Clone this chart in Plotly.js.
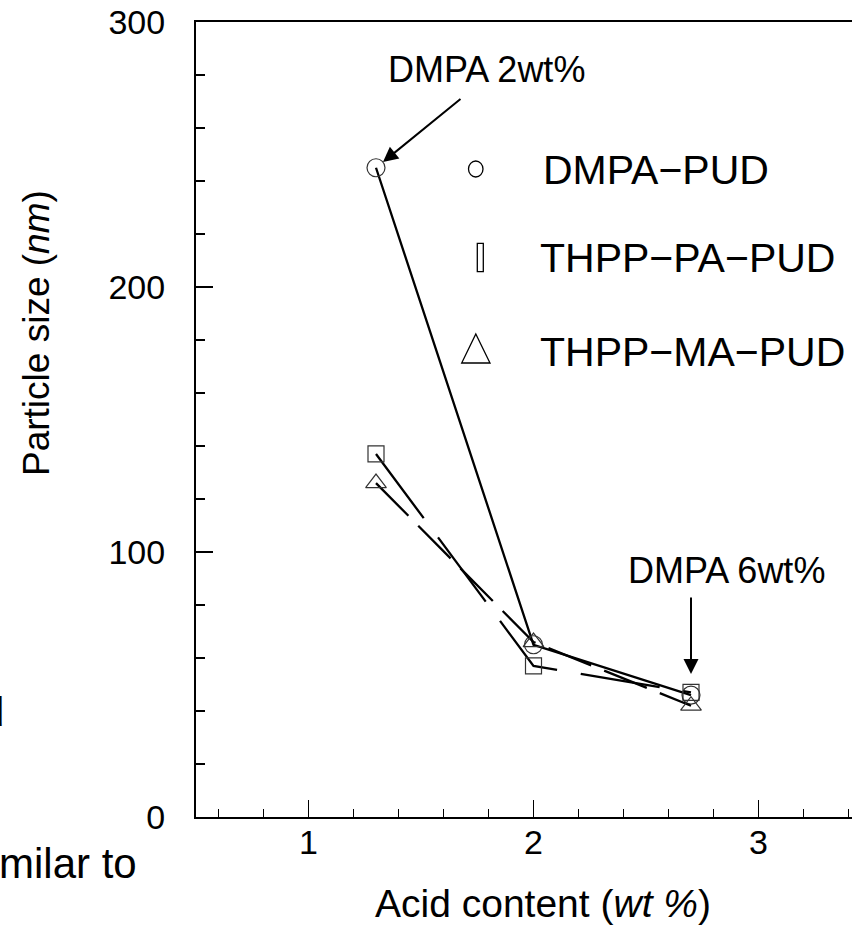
<!DOCTYPE html>
<html>
<head>
<meta charset="utf-8">
<script src="https://cdn.plot.ly/plotly-3.0.1.min.js"></script>
<style>
html, body { margin: 0; padding: 0; overflow: hidden; background: #fff; }
#chart { width: 900px; height: 936px; }
</style>
</head>
<body>
<div id="chart"></div>
<script>
// ---- data ----
const acidContent = [1.3, 2.0, 2.7];
const dmpaPUD = [245, 65, 46];
const thppPAPUD = [137, 57, 47];
const thppMAPUD = [126, 66, 42];
const seriesNames = ['DMPA\u2212PUD', 'THPP\u2212PA\u2212PUD', 'THPP\u2212MA\u2212PUD'];
const xTickVals = [1, 2, 3];
const yTickVals = [0, 100, 200, 300];

// ---- geometry ----
const W = 900, H = 936;
const L = 196, T = 22, PW = 675, PH = 795;
const px = v => (v - L) / PW;
const py = v => (T + PH - v) / PH;
const FONT = 'Liberation Sans, Arial, sans-serif';

const traces = [
  { x: acidContent, y: dmpaPUD, name: seriesNames[0], mode: 'lines+markers',
    line: { color: '#000', width: 2.3 },
    marker: { symbol: 'circle-open', size: 18, color: '#333', line: { width: 1.2 } } },
  { x: acidContent, y: thppPAPUD, name: seriesNames[1], mode: 'lines+markers',
    line: { color: '#000', width: 2.3, dash: '80px,24px' },
    marker: { symbol: 'square-open', size: 16, color: '#333', line: { width: 1.2 } } },
  { x: acidContent, y: thppMAPUD, name: seriesNames[2], mode: 'lines+markers',
    line: { color: '#000', width: 2.3, dash: '46px,14px' },
    marker: { symbol: 'triangle-up-open', size: 18, color: '#333', line: { width: 1.2 } } }
];

function txt(text, x, y, size, anchor) {
  return { text: text, xref: 'paper', yref: 'paper', x: px(x), y: py(y),
    xanchor: anchor || 'center', yanchor: 'middle', showarrow: false,
    font: { family: FONT, size: size, color: '#000' } };
}

const annotations = [
  Object.assign(txt('Particle size (<i>nm</i>)', 36, 333, 37), { textangle: -90 }),
  txt('Acid content (<i>wt %</i>)', 543, 903, 39),
  txt(seriesNames[0], 541, 170, 41, 'left'),
  txt(seriesNames[1], 538, 258, 41, 'left'),
  txt(seriesNames[2], 538, 352, 41, 'left'),
  txt('DMPA 2wt%', 486, 70, 36),
  txt('DMPA 6wt%', 726, 570, 36),
  txt('milar to', -3, 863, 42, 'left'),
  txt('d', 6, 712, 40, 'right'),
  { x: acidContent[0], y: dmpaPUD[0], xref: 'x', yref: 'y', text: '', showarrow: true,
    ax: 86, ay: -70, arrowhead: 2, arrowsize: 1.5, arrowwidth: 2, arrowcolor: '#000', standoff: 9 },
  { x: acidContent[2], y: dmpaPUD[2], xref: 'x', yref: 'y', text: '', showarrow: true,
    ax: 0, ay: -99, arrowhead: 2, arrowsize: 1.5, arrowwidth: 2, arrowcolor: '#000', standoff: 21 }
];

const shapes = [
  { type: 'circle', xref: 'paper', yref: 'paper', x0: px(468.5), x1: px(483), y0: py(177), y1: py(161),
    line: { color: '#000', width: 1.3 } },
  { type: 'rect', xref: 'paper', yref: 'paper', x0: px(477.3), x1: px(483.3), y0: py(271.7), y1: py(243.3),
    line: { color: '#000', width: 1.3 } },
  { type: 'path', xref: 'paper', yref: 'paper',
    path: 'M ' + px(461.7) + ' ' + py(363) + ' L ' + px(490) + ' ' + py(363) + ' L ' + px(475.8) + ' ' + py(334) + ' Z',
    line: { color: '#000', width: 1.3 } }
];

const axisCommon = {
  showgrid: false, zeroline: false, showline: true, linecolor: '#000', linewidth: 2, mirror: true,
  ticks: 'inside', ticklen: 17, tickwidth: 1.5, tickcolor: '#000',
  tickfont: { family: FONT, size: 34, color: '#000' }
};

const layout = {
  width: W, height: H,
  margin: { l: L, r: W - L - PW, t: T, b: H - T - PH, pad: 0 },
  paper_bgcolor: '#fff', plot_bgcolor: '#fff',
  showlegend: false,
  xaxis: Object.assign({}, axisCommon, {
    range: [0.5, 3.5], tickmode: 'array', tickvals: xTickVals, ticktext: xTickVals.map(String),
    ticklabelstandoff: -6,
    minor: { dtick: 0.2, tick0: 0, ticks: 'inside', ticklen: 8.5, tickwidth: 1.5, tickcolor: '#000' }
  }),
  yaxis: Object.assign({}, axisCommon, {
    range: [0, 300], tickmode: 'array', tickvals: yTickVals, ticktext: yTickVals.map(String),
    ticklabelstandoff: 22,
    minor: { dtick: 20, tick0: 0, ticks: 'inside', ticklen: 8.5, tickwidth: 1.5, tickcolor: '#000' }
  }),
  annotations: annotations,
  shapes: shapes
};

Plotly.newPlot('chart', traces, layout, { staticPlot: true, displayModeBar: false });
</script>
</body>
</html>
